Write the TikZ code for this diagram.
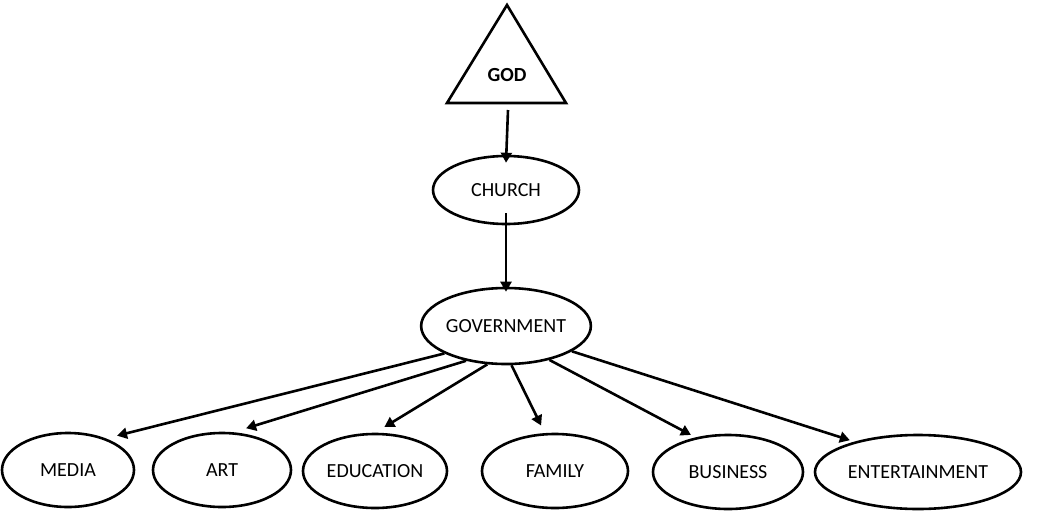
\documentclass[tikz,border=0pt]{standalone}
\usepackage{fontspec}
\setmainfont{Carlito}
\usetikzlibrary{arrows.meta,shapes.geometric}
\begin{document}
\begin{tikzpicture}[x=1pt,y=-1pt,
  ell/.style={draw,line width=2.6pt,ellipse,minimum width=#1,minimum height=74pt,inner sep=0pt,font=\fontsize{20}{24}\selectfont},
  arr/.style={line width=2.6pt,-{Triangle[length=10pt,width=11pt]}}]
\useasboundingbox (0,0) rectangle (1039,512);
\draw[line width=2.6pt,line join=miter] (507,5) coordinate (apex) -- (566,103) coordinate (br) -- (447,103) coordinate (bl) -- cycle;
\node[font=\fontsize{20}{24}\selectfont\bfseries] (god) at (507,75) {GOD};
\coordinate (godb) at (508,110);
\node[ell=146pt,minimum height=68pt] (church) at (506,190) {CHURCH};
\node[ell=162pt,minimum height=76pt] (gov) at (506,326) {GOVERNMENT};
\node[ell=132pt] (media) at (68,470) {MEDIA};
\node[ell=138pt] (art) at (222,470) {ART};
\node[ell=144pt] (edu) at (375,471) {EDUCATION};
\node[ell=146pt] (fam) at (555,471) {FAMILY};
\node[ell=150pt] (bus) at (728,472) {BUSINESS};
\node[ell=206pt] (ent) at (918,472) {ENTERTAINMENT};
\draw[arr] (godb) -- ([yshift=-8pt]church.north);
\draw[arr] ([yshift=12pt]church.south) -- ([yshift=-5pt]gov.north);
\draw[arr] (gov.204) -- ([shift={(35:8pt)}]media.35);
\draw[arr] (gov.221) -- ([shift={(60:6pt)}]art.60);
\draw[arr] (gov.244) -- ([shift={(78:6pt)}]edu.78);
\draw[arr] (gov.278) -- ([shift={(107:8pt)}]fam.107);
\draw[arr] (gov.322) -- ([shift={(135:4pt)}]bus.135);
\draw[arr] (gov.339) -- ([shift={(155:4pt)}]ent.155);
\end{tikzpicture}
\end{document}
